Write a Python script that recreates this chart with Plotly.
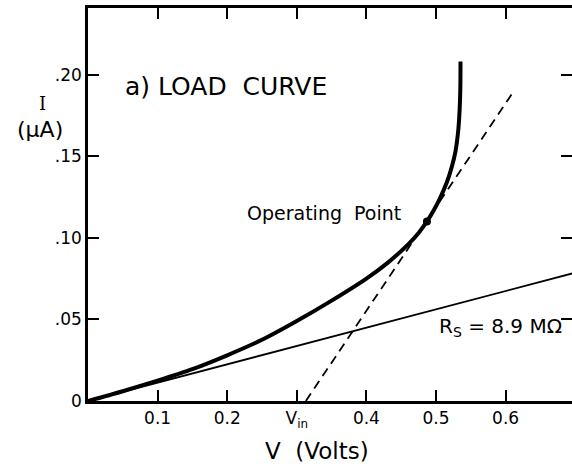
import plotly.graph_objects as go

# Diode load curve (V in volts, I in microamps)
curve_v = [0.0, 0.05, 0.10, 0.15, 0.20, 0.25, 0.30, 0.35, 0.40, 0.43, 0.46, 0.475, 0.487,
           0.497, 0.506, 0.516, 0.523, 0.528, 0.532, 0.534, 0.535, 0.5352]
curve_i = [0.0, 0.0060, 0.0125, 0.0195, 0.0280, 0.0375, 0.0490, 0.0615, 0.0750, 0.0845,
           0.0960, 0.1030, 0.1100, 0.1170, 0.1245, 0.1345, 0.1440, 0.1530, 0.1660,
           0.1790, 0.1930, 0.2080]

# Series resistance line, I = V / R_S
rs_mohm = 8.9
rs_v = [0.0, 0.70]
rs_i = [v / rs_mohm for v in rs_v]

# Tangent at the operating point, intercepting the V axis at V_in
tangent_v = [0.313, 0.612]
tangent_i = [0.0, 0.190]

op_v = [0.487]
op_i = [0.110]

x_ticks = [0.1, 0.2, 0.3, 0.4, 0.5, 0.6]
x_labels = ["0.1", "0.2", "V<sub>in</sub>", "0.4", "0.5", "0.6"]
y_ticks = [0.0, 0.05, 0.10, 0.15, 0.20]
y_labels = ["0", ".05", ".10", ".15", ".20"]

FONT = "DejaVu Sans, Liberation Sans, sans-serif"

fig = go.Figure()
fig.add_trace(go.Scatter(x=rs_v, y=rs_i, mode="lines",
                         line=dict(color="black", width=1.8)))
fig.add_trace(go.Scatter(x=tangent_v, y=tangent_i, mode="lines",
                         line=dict(color="black", width=1.8, dash="9px,6px")))
fig.add_trace(go.Scatter(x=curve_v, y=curve_i, mode="lines",
                         line=dict(color="black", width=4, shape="spline", smoothing=0.6)))
fig.add_trace(go.Scatter(x=op_v, y=op_i, mode="markers",
                         marker=dict(color="black", size=8)))
# right-hand tick marks without a frame line
fig.add_trace(go.Scatter(x=[None], y=[None], yaxis="y2", showlegend=False))

axis_common = dict(
    ticks="inside", ticklen=11, tickwidth=2, tickcolor="black",
    showgrid=False, zeroline=False,
    showline=True, linecolor="black", linewidth=2.5,
    tickfont=dict(family=FONT, size=17, color="black"),
)

fig.update_layout(
    width=572, height=469,
    margin=dict(l=88, r=0, t=8, b=68),
    paper_bgcolor="white", plot_bgcolor="white",
    showlegend=False,
    xaxis=dict(range=[0, 0.6954], tickvals=x_ticks, ticktext=x_labels,
               mirror="ticks", ticklabelstandoff=0, **axis_common),
    yaxis=dict(range=[0, 0.2408], tickvals=y_ticks, ticktext=y_labels,
               mirror=False, ticklabelstandoff=0, **axis_common),
    yaxis2=dict(overlaying="y", side="right", matches="y",
                range=[0, 0.2408], tickvals=y_ticks[1:],
                showticklabels=False, ticks="inside", ticklen=11,
                tickwidth=2, tickcolor="black", showline=False,
                showgrid=False, zeroline=False),
)

NB = "\u00a0"
fig.add_annotation(x=123, y=469 - 87, text="a) LOAD" + NB + NB + "CURVE",
                   showarrow=False, xanchor="left", yanchor="middle",
                   font=dict(family=FONT, size=25, color="black"))
fig.add_annotation(x=245, y=469 - 213, text="Operating" + NB + " Point", showarrow=False,
                   xanchor="left", yanchor="middle",
                   font=dict(family=FONT, size=19, color="black"))
fig.add_annotation(x=437, y=469 - 327, text="R<sub>S</sub> = 8.9 MΩ", showarrow=False,
                   xanchor="left", yanchor="middle",
                   font=dict(family=FONT, size=20, color="black"))
fig.add_annotation(x=42, y=469 - 104, text="I", showarrow=False,
                   xanchor="center", yanchor="middle",
                   font=dict(family="DejaVu Serif, serif", size=18, color="black"))
fig.add_annotation(x=40, y=469 - 129, text="(μA)", showarrow=False,
                   xanchor="center", yanchor="middle",
                   font=dict(family=FONT, size=22, color="black"))
fig.add_annotation(x=317, y=469 - 451, text="V" + NB + " (Volts)", showarrow=False,
                   xanchor="center", yanchor="middle",
                   font=dict(family=FONT, size=23, color="black"))

# annotation positions above are in pixels; convert to paper coordinates
for a in fig.layout.annotations:
    a.xref = "paper"
    a.yref = "paper"
    a.x = (a.x - 88) / (572 - 88)
    a.y = (a.y - 68) / (469 - 8 - 68)

fig.write_html("out.html")
